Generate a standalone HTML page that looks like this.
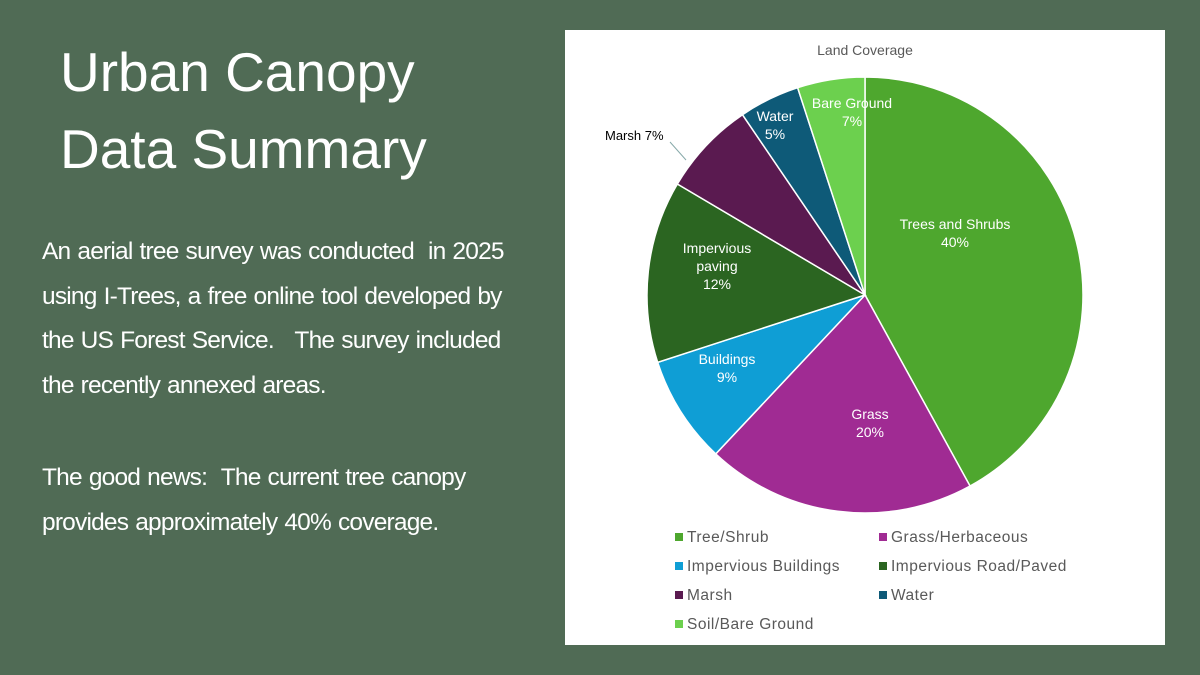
<!DOCTYPE html>
<html><head><meta charset="utf-8"><style>
body{margin:0;width:1200px;height:675px;background:#506b55;position:relative;overflow:hidden;font-family:"Liberation Sans",sans-serif}
#title{position:absolute;left:60px;top:34px;color:#fff;font-size:55px;line-height:77px}
.p{position:absolute;left:42px;color:#fff;font-size:24.5px;line-height:44.5px;letter-spacing:-0.8px;word-spacing:1px}
#panel{position:absolute;left:565px;top:30px;width:600px;height:615px;background:#fff}
</style></head><body>
<div id="title">Urban Canopy<br>Data Summary</div>
<div class="p" style="top:230px">An aerial tree survey was conducted&nbsp; in 2025<br>using I-Trees, a free online tool developed by<br>the US Forest Service.&nbsp;&nbsp; The survey included<br>the recently annexed areas.</div>
<div class="p" style="top:456px">The good news:&nbsp; The current tree canopy<br>provides approximately 40% coverage.</div>
<div id="panel">
<svg id="chart" width="600" height="615"></svg>
</div>
<script>
const categories=["Tree/Shrub","Grass/Herbaceous","Impervious Buildings","Impervious Road/Paved","Marsh","Water","Soil/Bare Ground"];
const values=[42,20,8,13.5,7,4.5,5];
const sliceLabels=[["Trees and Shrubs","40%"],["Grass","20%"],["Buildings","9%"],["Impervious","paving","12%"],[],["Water","5%"],["Bare Ground","7%"]];
const colors=["#4ea72e","#a02b93","#0f9ed5","#2b6521","#5a1a50","#0e5a78","#6cd04e"];
const labelOffsets=[[90,-62],[5,128],[-138,73],[-148,-29],[0,0],[-90,-170],[-13,-183]];
const NS="http://www.w3.org/2000/svg";
const svg=document.getElementById('chart');
function mk(t,a){const e=document.createElementNS(NS,t);for(const k in a)e.setAttribute(k,a[k]);svg.appendChild(e);return e;}
const cx=300,cy=265,r=218;
const total=values.reduce((a,b)=>a+b,0);
function pt(frac,rad){const a=frac*2*Math.PI;return [cx+rad*Math.sin(a),cy-rad*Math.cos(a)];}
const t=mk('text',{x:300,y:25,'text-anchor':'middle','font-size':14,fill:'#595959'});
t.textContent='Land Coverage';


let acc=0;
values.forEach((v,i)=>{
  const s=acc/total,e=(acc+v)/total;acc+=v;
  const [x1,y1]=pt(s,r),[x2,y2]=pt(e,r);
  const p=mk('path',{d:`M${cx},${cy}L${x1},${y1}A${r},${r} 0 ${e-s>0.5?1:0} 1 ${x2},${y2}Z`,fill:colors[i],stroke:'#fff','stroke-width':1.5});
  
  
  const lines=sliceLabels[i];
  if(lines.length){
    const lx=cx+labelOffsets[i][0],ly=cy+labelOffsets[i][1];
    lines.forEach((ln,j)=>{
      const tx=mk('text',{x:lx,y:ly+(j-(lines.length-1)/2)*18+5,'text-anchor':'middle','font-size':14,fill:'#fff'});
      tx.textContent=ln;
      
      
    });
  }
});
const ml=mk('text',{x:40,y:110,'font-size':13,fill:'#000'});ml.textContent='Marsh 7%';


mk('line',{x1:105,y1:112,x2:121,y2:130,stroke:'#8aa','stroke-width':1});
categories.forEach((c,i)=>{
  const col=i%2,row=Math.floor(i/2);
  const x=110+col*204,y=512+row*29;
  const sq=mk('rect',{x:x,y:y-9,width:8,height:8,fill:colors[i]});
  
  
  const lt=mk('text',{x:x+12,y:y,'font-size':15.5,'letter-spacing':0.5,fill:'#595959'});lt.textContent=c;
  
  
});
</script>
</body></html>
